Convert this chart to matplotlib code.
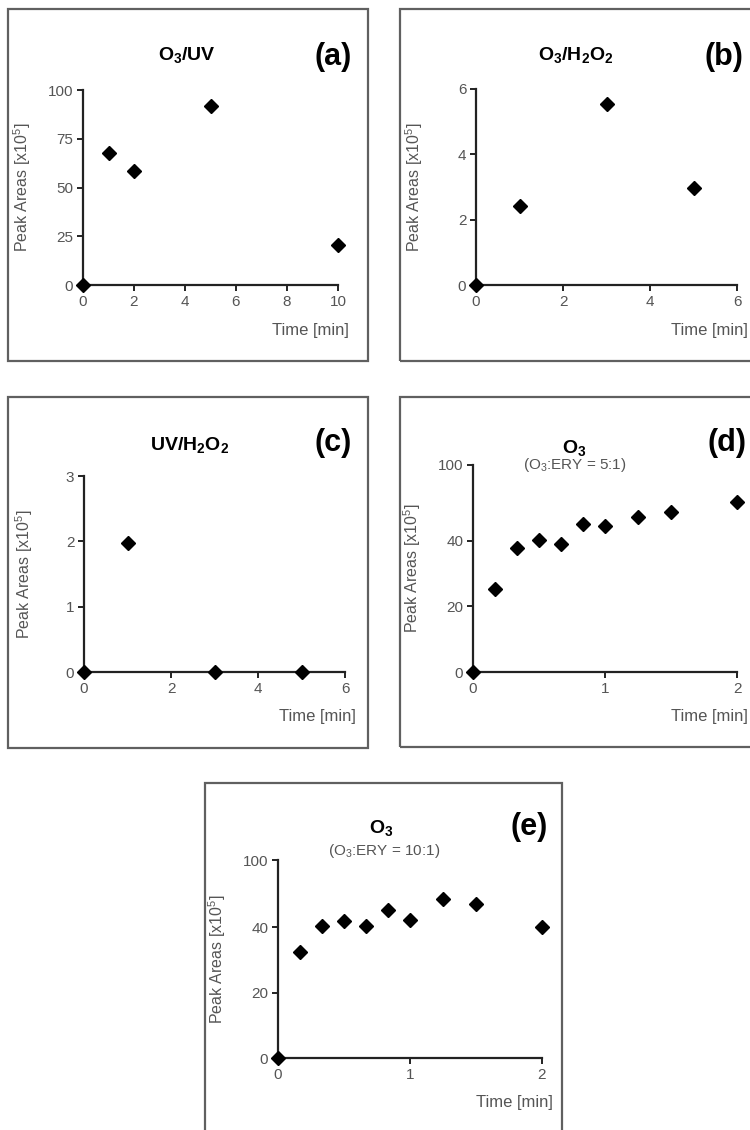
import numpy as np
import matplotlib
matplotlib.use('Agg')
import matplotlib.pyplot as plt
from matplotlib.patches import Rectangle

plt.rcParams['font.family'] = ['Liberation Sans', 'DejaVu Sans']
plt.rcParams['mathtext.fontset'] = 'custom'
plt.rcParams['mathtext.rm'] = 'Liberation Sans'
plt.rcParams['mathtext.it'] = 'Liberation Sans:italic'
plt.rcParams['mathtext.bf'] = 'Liberation Sans:bold'

# --- data (peak areas x10^5 vs time in min) ---
time_a = [0, 1, 2, 5, 10]
area_a = [0, 67.5, 58.5, 92, 20.5]

time_b = [0, 1, 3, 5]
area_b = [0, 2.42, 5.55, 2.97]

time_c = [0, 1, 3, 5]
area_c = [0, 1.97, 0, 0]

time_d = [0, 0.167, 0.333, 0.5, 0.667, 0.833, 1.0, 1.25, 1.5, 2.0]
area_d = [0, 25.2, 37.7, 40.5, 38.9, 53.5, 51.5, 58.5, 63, 71]

time_e = [0, 0.167, 0.333, 0.5, 0.667, 0.833, 1.0, 1.25, 1.5, 2.0]
area_e = [0, 32.5, 40.9, 45.4, 40.9, 55, 46.6, 65.5, 61, 40]

xticks_a = [0, 2, 4, 6, 8, 10]
yticks_a = [0, 25, 50, 75, 100]
xticks_b = [0, 2, 4, 6]
yticks_b = [0, 2, 4, 6]
xticks_c = [0, 2, 4, 6]
yticks_c = [0, 1, 2, 3]
xticks_de = [0, 1, 2]
yticks_de = [0, 20, 40, 100]

W, H = 750, 1130
fig = plt.figure(figsize=(W / 100, H / 100), dpi=100)


def fx(x):
    return x / W


def fy(y):
    return 1 - y / H


def broken(k):
    # y axis of (d)/(e) is squeezed above 40 in the original
    def fwd(y):
        y = np.asarray(y, dtype=float)
        return np.where(y <= 40, y, 40 + (y - 40) * k)

    def inv(z):
        z = np.asarray(z, dtype=float)
        return np.where(z <= 40, z, 40 + (z - 40) / k)
    return fwd, inv


# box (x0, y0, x1, y1), axes (x0, x1, ybottom, ytop) in pixels
panels = [
    dict(t=time_a, v=area_a, xt=xticks_a, yt=yticks_a, box=(8, 9, 368, 361),
         ax=(83, 338, 285, 90), title=r'O$_\mathbf{3}$/UV', tpos=(187, 55),
         sub=None, letter='(a)', lpos=(333, 57), ylx=33, k=None),
    dict(t=time_b, v=area_b, xt=xticks_b, yt=yticks_b, box=(400, 9, 780, 361),
         ax=(476, 737, 285, 89), title=r'O$_\mathbf{3}$/H$_\mathbf{2}$O$_\mathbf{2}$',
         tpos=(576, 55), sub=None, letter='(b)', lpos=(724, 57), ylx=425, k=None),
    dict(t=time_c, v=area_c, xt=xticks_c, yt=yticks_c, box=(8, 397, 368, 748),
         ax=(84, 345, 672, 476), title=r'UV/H$_\mathbf{2}$O$_\mathbf{2}$',
         tpos=(190, 445), sub=None, letter='(c)', lpos=(333, 443), ylx=35, k=None),
    dict(t=time_d, v=area_d, xt=xticks_de, yt=yticks_de, box=(400, 397, 780, 747),
         ax=(473, 737, 672, 465), title=r'O$_\mathbf{3}$', tpos=(574, 448),
         sub=r'(O$_3$:ERY = 5:1)', spos=(575, 465), letter='(d)', lpos=(727, 443),
         ylx=423, k=0.385),
    dict(t=time_e, v=area_e, xt=xticks_de, yt=yticks_de, box=(205, 783, 562, 1150),
         ax=(278, 542, 1058, 860), title=r'O$_\mathbf{3}$', tpos=(381, 828),
         sub=r'(O$_3$:ERY = 10:1)', spos=(384, 851), letter='(e)', lpos=(529, 827),
         ylx=228, k=0.342),
]

grey = '#555555'
for p in panels:
    bx0, by0, bx1, by1 = p['box']
    fig.patches.append(Rectangle((fx(bx0), fy(by1)), fx(bx1 - bx0), (by1 - by0) / H,
                                 transform=fig.transFigure, fill=False,
                                 edgecolor='#606060', linewidth=1.6))

    x0, x1, yb, yt = p['ax']
    ax = fig.add_axes([fx(x0), fy(yb), fx(x1 - x0), (yb - yt) / H])
    if p['k'] is not None:
        ax.set_yscale('function', functions=broken(p['k']))

    ax.plot(p['t'], p['v'], 'D', color='black', markersize=7.5, clip_on=False, zorder=5)
    ax.set_xlim(p['xt'][0], p['xt'][-1])
    ax.set_ylim(p['yt'][0], p['yt'][-1])
    ax.set_xticks(p['xt'])
    ax.set_yticks(p['yt'])
    ax.minorticks_off()

    for side in ['top', 'right']:
        ax.spines[side].set_visible(False)
    for side in ['left', 'bottom']:
        ax.spines[side].set_linewidth(1.6)
        ax.spines[side].set_color('#222222')
    ax.tick_params(direction='out', length=4, width=1.4, color='#222222',
                   labelcolor=grey, labelsize=11, pad=3)

    ax.set_ylabel('Peak Areas [x10$^5$]', fontsize=11.5, color=grey)
    ax.yaxis.set_label_coords((p['ylx'] - x0) / (x1 - x0), 0.5)

    fig.text(fx(x1 + 11), fy(yb + 45), 'Time [min]', ha='right', va='center',
             fontsize=12, color=grey)
    fig.text(fx(p['tpos'][0]), fy(p['tpos'][1]), p['title'], ha='center', va='center',
             fontsize=14, fontweight='bold')
    if p['sub']:
        fig.text(fx(p['spos'][0]), fy(p['spos'][1]), p['sub'], ha='center', va='center',
                 fontsize=11, color=grey)
    fig.text(fx(p['lpos'][0]), fy(p['lpos'][1]), p['letter'], ha='center', va='center',
             fontsize=22, fontweight='bold')

fig.savefig('out.png', dpi=100, facecolor='white')
